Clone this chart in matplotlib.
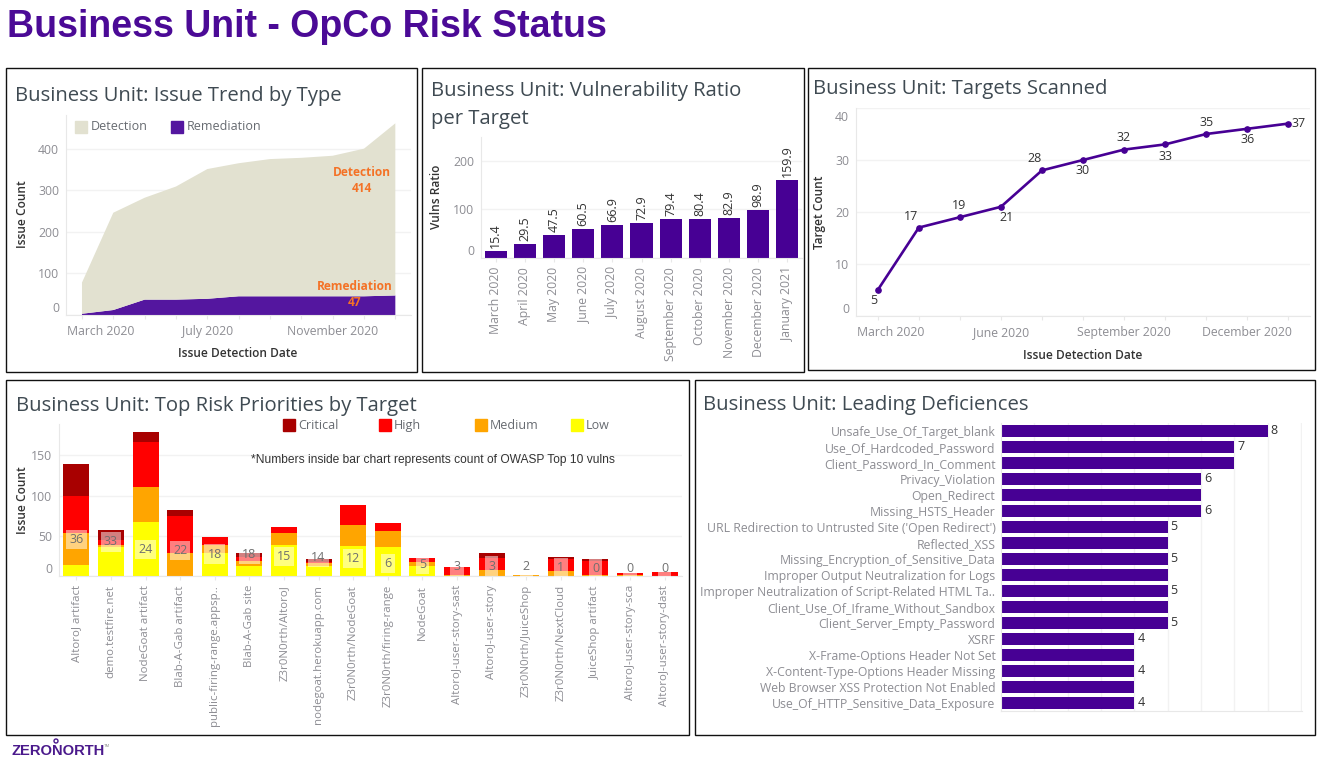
"""Rebuild the Business Unit - OpCo Risk Status dashboard as a single figure."""

import matplotlib

matplotlib.use("Agg")
import matplotlib.pyplot as plt
import numpy as np
from matplotlib.patches import Circle, Rectangle
from matplotlib.transforms import IdentityTransform, ScaledTranslation

# Issue trend by type
trend_months = list(range(11))
trend_tick_labels = ["March 2020", "", "", "", "July 2020", "", "", "", "November 2020", "", ""]
trend_detection = [75, 234, 245, 272, 312, 320, 330, 333, 338, 355, 414]
trend_remediation = [3, 12, 37, 37, 39, 45, 45, 45, 45, 45, 47]

# Vulnerability ratio per target
ratio_months = [
    "March 2020", "April 2020", "May 2020", "June 2020", "July 2020", "August 2020",
    "September 2020", "October 2020", "November 2020", "December 2020", "January 2021",
]
ratio_values = [15.4, 29.5, 47.5, 60.5, 66.9, 72.9, 79.4, 80.4, 82.9, 98.9, 159.9]

# Targets scanned
scan_months = list(range(11))
scan_tick_labels = ["March 2020", "", "", "June 2020", "", "", "September 2020", "", "", "December 2020", ""]
scan_counts = [5, 17, 19, 21, 28, 30, 32, 33, 35, 36, 37]

# Top risk priorities by target
risk_targets = [
    "AltoroJ artifact", "demo.testfire.net", "NodeGoat artifact", "Blab-A-Gab artifact",
    "public-firing-range.appsp..", "Blab-A-Gab site", "Z3r0N0rth/AltoroJ", "nodegoat.herokuapp.com",
    "Z3r0N0rth/NodeGoat", "Z3r0N0rth/firing-range", "NodeGoat", "AltoroJ-user-story-sast",
    "AltoroJ-user-story", "Z3r0N0rth/JuiceShop", "Z3r0N0rth/NextCloud", "JuiceShop artifact",
    "AltoroJ-user-story-sca", "AltoroJ-user-story-dast",
]
risk_low = [14, 36, 67, 0, 29, 13, 39, 13, 37, 36, 12, 0, 0, 0, 0, 0, 0, 0]
risk_medium = [40, 2, 44, 29, 10, 6, 15, 3, 26, 20, 6, 1, 8, 1, 6, 1, 1, 0]
risk_high = [46, 7, 56, 45, 10, 5, 7, 1, 25, 10, 5, 10, 15, 0, 15, 18, 3, 5]
risk_critical = [39, 12, 12, 8, 0, 5, 0, 4, 0, 0, 0, 0, 5, 0, 3, 2, 0, 0]
risk_owasp = [36, 33, 24, 22, 18, 18, 15, 14, 12, 6, 5, 3, 3, 2, 1, 0, 0, 0]

# Leading deficiencies
deficiency_names = [
    "Unsafe_Use_Of_Target_blank", "Use_Of_Hardcoded_Password", "Client_Password_In_Comment",
    "Privacy_Violation", "Open_Redirect", "Missing_HSTS_Header",
    "URL Redirection to Untrusted Site ('Open Redirect')", "Reflected_XSS",
    "Missing_Encryption_of_Sensitive_Data", "Improper Output Neutralization for Logs",
    "Improper Neutralization of Script-Related HTML Ta..", "Client_Use_Of_Iframe_Without_Sandbox",
    "Client_Server_Empty_Password", "XSRF", "X-Frame-Options Header Not Set",
    "X-Content-Type-Options Header Missing", "Web Browser XSS Protection Not Enabled",
    "Use_Of_HTTP_Sensitive_Data_Exposure",
]
deficiency_counts = [8, 7, 7, 6, 6, 6, 5, 5, 5, 5, 5, 5, 5, 4, 4, 4, 4, 4]
deficiency_labels = ["8", "7", "", "6", "", "6", "5", "", "5", "", "5", "", "5", "4", "", "4", "", "4"]

WIDTH, HEIGHT = 1325, 769
FONT = "Open Sans"
PURPLE = "#470094"
TITLE_COLOR = "#3f4a52"
TICK_COLOR = "#8d8d93"
AXIS_TITLE_COLOR = "#333333"
GRID_COLOR = "#f2f2f2"
AXIS_COLOR = "#e8e8e8"
TITLE_SIZE = 14.6
LEGEND_SIZE = 9.0
TICK_SIZE = 8.8
PT = 72 / 100  # one pixel in points at dpi 100

fig = plt.figure(figsize=(WIDTH / 100, HEIGHT / 100), dpi=100)
plt.rcParams["font.family"] = FONT


def px_text(x, y, text, **kwargs):
    """Put figure text at a pixel position measured from the top left."""
    kwargs.setdefault("va", "center")
    kwargs.setdefault("ha", "left")
    return fig.text(x / WIDTH, 1 - y / HEIGHT, text, **kwargs)


def px_box(left, top, right, bottom, **kwargs):
    """Add a figure level rectangle given in pixel positions."""
    rect = Rectangle(
        (left / WIDTH, 1 - bottom / HEIGHT), (right - left) / WIDTH, (bottom - top) / HEIGHT,
        transform=fig.transFigure, **kwargs,
    )
    fig.add_artist(rect)


def make_axes(left, top, right, bottom):
    """Create axes from pixel edges with the pale Tableau look."""
    ax = fig.add_axes([left / WIDTH, 1 - bottom / HEIGHT, (right - left) / WIDTH, (bottom - top) / HEIGHT])
    for side in ("top", "right"):
        ax.spines[side].set_visible(False)
    for side in ("left", "bottom"):
        ax.spines[side].set_color(AXIS_COLOR)
        ax.spines[side].set_linewidth(0.8)
    ax.set_axisbelow(True)
    ax.tick_params(axis="both", colors=AXIS_COLOR, labelcolor=TICK_COLOR, labelsize=TICK_SIZE, length=3, width=0.8)
    ax.tick_params(axis="y", length=0, pad=5)
    ax.grid(axis="y", color=GRID_COLOR, linewidth=1)
    return ax


def shift_label(label, dx_px=0, dy_px=0):
    """Nudge a tick label by a number of pixels."""
    label.set_transform(label.get_transform() + ScaledTranslation(dx_px / 100, dy_px / 100, fig.dpi_scale_trans))


def align_edge_labels(ax):
    """Keep the lowest (and top) value label inside the axis span like Tableau does."""
    labels = ax.get_yticklabels()
    labels[0].set_verticalalignment("bottom")
    if ax.get_yticks()[-1] >= ax.get_ylim()[1]:
        labels[-1].set_verticalalignment("top")
        shift_label(labels[-1], dy_px=-3)


def axis_title(x, y, text, rotation=0):
    px_text(x, y, text, ha="center", rotation=rotation, fontsize=8.6, fontweight="semibold", color=AXIS_TITLE_COLOR)


def panel_title(x, y, text):
    px_text(x, y, text, fontsize=TITLE_SIZE, color=TITLE_COLOR)


def draw_frames():
    for left, top, right, bottom in [
        (6, 68, 417, 372), (422, 68, 804, 372), (808, 68, 1315, 370), (6, 380, 689, 735), (695, 380, 1315, 735),
    ]:
        px_box(left, top, right, bottom, fill=False, edgecolor="#111111", linewidth=1.0)


def draw_trend():
    ax = make_axes(66, 115, 411, 315)
    ax.stackplot(trend_months, trend_remediation, trend_detection, colors=["#54169f", "#e2e1d0"], linewidth=0)
    ax.set_xlim(-0.51, 10.5)
    ax.set_ylim(0, 481)
    ax.set_yticks([0, 100, 200, 300, 400])
    ax.set_xticks(trend_months, trend_tick_labels)
    ax.tick_params(axis="x", pad=4)
    shift_label(ax.get_xticklabels()[0], 19)
    align_edge_labels(ax)

    panel_title(15, 96, "Business Unit: Issue Trend by Type")
    axis_title(22.5, 214, "Issue Count", rotation=90)
    axis_title(238, 354, "Issue Detection Date")
    px_box(75, 121, 87, 133, color="#e2e1d0")
    px_text(91, 127, "Detection", fontsize=LEGEND_SIZE, color="#666a70")
    px_box(171, 121, 183, 133, color="#54169f")
    px_text(187, 127, "Remediation", fontsize=LEGEND_SIZE, color="#666a70")
    orange = {"ha": "center", "fontsize": 8.6, "fontweight": "bold", "color": "#f47226"}
    px_text(362, 172, "Detection", **orange)
    px_text(362, 188, str(trend_detection[-1]), **orange)
    px_text(355, 286, "Remediation", **orange)
    px_text(355, 302, str(trend_remediation[-1]), **orange)


def draw_ratio():
    ax = make_axes(481, 137, 802, 258)
    xs = np.arange(len(ratio_values))
    ax.bar(xs, ratio_values, width=0.76, color=PURPLE)
    for x, value in zip(xs, ratio_values):
        ax.annotate(
            f"{value:.1f}", (x, value), xytext=(0, 3 * PT), textcoords="offset points",
            rotation=90, ha="center", va="bottom", fontsize=9, color="#333333",
        )
    ax.set_xlim(-0.5, 10.5)
    ax.set_ylim(0, 249)
    ax.set_yticks([0, 100, 200])
    ax.set_xticks(xs, ratio_months, rotation=90)
    align_edge_labels(ax)

    panel_title(431, 91, "Business Unit: Vulnerability Ratio")
    panel_title(431, 119, "per Target")
    axis_title(436, 197, "Vulns Ratio", rotation=90)


def draw_scans():
    ax = make_axes(856, 108, 1310, 316)
    ax.plot(scan_months, scan_counts, color=PURPLE, linewidth=1.9, marker="o", markersize=3.8)
    # Label offsets in pixels, picked per point to sit clear of the line.
    offsets = [(-4, -11), (-8, 11), (-1, 12), (6, -11), (-7, 12), (0, -11), (0, 12), (0, -12), (0, 11), (0, -11), (10, 0)]
    for x, value, (dx, dy) in zip(scan_months, scan_counts, offsets):
        ax.annotate(
            str(value), (x, value), xytext=(dx * PT, dy * PT), textcoords="offset points",
            ha="center", va="center", fontsize=9, color="#333333", annotation_clip=False,
        )
    ax.set_xlim(-0.53, 10.53)
    ax.set_ylim(0, 40)
    ax.set_yticks([0, 10, 20, 30, 40])
    ax.set_xticks(scan_months, scan_tick_labels)
    ax.tick_params(axis="x", pad=4)
    shift_label(ax.get_xticklabels()[0], 13)
    align_edge_labels(ax)

    panel_title(813, 89, "Business Unit: Targets Scanned")
    axis_title(820, 212, "Target Count", rotation=90)
    axis_title(1083, 355, "Issue Detection Date")


def draw_risks():
    ax = make_axes(59, 424, 682, 576)
    xs = np.arange(len(risk_targets))
    bottom = np.zeros(len(risk_targets))
    for values, color in [(risk_low, "#ffff00"), (risk_medium, "#ffa500"), (risk_high, "#ff0000"), (risk_critical, "#a80000")]:
        ax.bar(xs, values, bottom=bottom, width=0.75, color=color)
        bottom += np.asarray(values)
    for x, count in zip(xs, risk_owasp):
        ax.annotate(
            str(count), (x, count), xytext=(0, 7.5 * PT), textcoords="offset points",
            ha="center", va="center", fontsize=9, color="#6f6f6f",
            bbox={"boxstyle": "square,pad=0.25", "facecolor": "white", "edgecolor": "none", "alpha": 0.5},
        )
    ax.set_xlim(-0.5, 17.5)
    ax.set_ylim(0, 189)
    ax.set_yticks([0, 50, 100, 150])
    ax.set_xticks(xs, risk_targets, rotation=90)
    ax.tick_params(axis="x", labelsize=8.25)
    align_edge_labels(ax)

    panel_title(16, 406, "Business Unit: Top Risk Priorities by Target")
    axis_title(23, 500, "Issue Count", rotation=90)
    for x, name, color in [(283, "Critical", "#a80000"), (379, "High", "#ff0000"), (475, "Medium", "#ffa500"), (571, "Low", "#ffff00")]:
        px_box(x, 419, x + 12, 431, color=color)
        px_text(x + 15, 425, name, fontsize=LEGEND_SIZE, color="#666a70")
    px_text(251, 460, "*Numbers inside bar chart represents count of OWASP Top 10 vulns", family="Liberation Sans", fontsize=8.67, color="#333333")


def draw_deficiencies():
    ax = make_axes(1001, 423, 1302, 711)
    ys = np.arange(len(deficiency_names))
    ax.barh(ys, deficiency_counts, height=0.75, color=PURPLE)
    for y, count, label in zip(ys, deficiency_counts, deficiency_labels):
        if label:
            ax.annotate(
                label, (count, y), xytext=(3 * PT, 0), textcoords="offset points",
                ha="left", va="center", fontsize=9, color="#333333",
            )
    ax.set_xlim(0, 9.03)
    ax.set_ylim(17.5, -0.5)
    ax.set_yticks(ys, deficiency_names)
    ax.set_xticks(range(1, 10))
    ax.tick_params(axis="x", length=0, labelbottom=False)
    ax.grid(axis="x", color=GRID_COLOR, linewidth=1)
    ax.grid(axis="y", visible=False)
    ax.tick_params(axis="y", labelsize=8.85, pad=4)

    panel_title(703, 405, "Business Unit: Leading Deficiences")


def draw_header():
    px_text(7, 27, "Business Unit - OpCo Risk Status", family="Liberation Sans", fontsize=27, fontweight="bold", color="#4b0a96")
    px_text(11, 751, "ZERONORTH", family="Liberation Sans", fontsize=10.6, fontweight="bold", color="#4b1a8c")
    px_text(104, 746, "TM", family="Liberation Sans", fontsize=3, color="#8a8a8a")
    fig.add_artist(Circle((56, HEIGHT - 741), 2, transform=IdentityTransform(), fill=False, edgecolor="#4b1a8c", linewidth=1))


def main():
    draw_header()
    draw_trend()
    draw_ratio()
    draw_scans()
    draw_risks()
    draw_deficiencies()
    draw_frames()
    fig.savefig("out.png", dpi=100)


if __name__ == "__main__":
    main()
